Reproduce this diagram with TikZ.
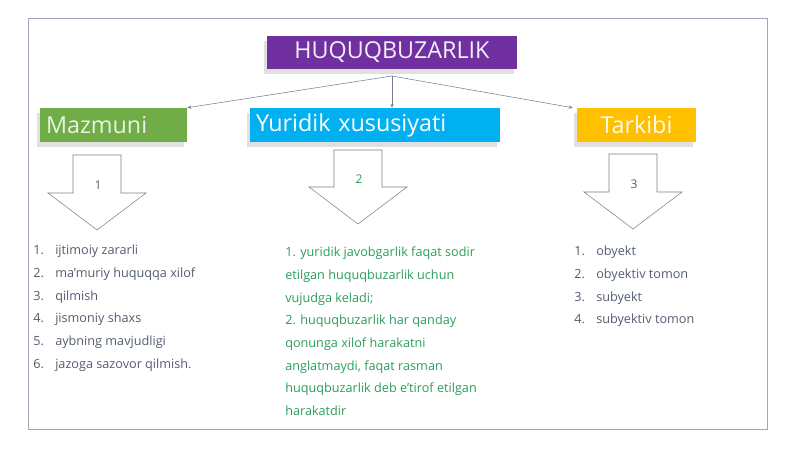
\documentclass[tikz,border=0pt]{standalone}
\usepackage{fontspec}
\setmainfont{Open Sans}
\usetikzlibrary{shadows,arrows.meta}
\definecolor{huqpurple}{HTML}{7030A0}
\definecolor{huqgreen}{HTML}{70AD47}
\definecolor{huqcyan}{HTML}{00B0F0}
\definecolor{huqgold}{HTML}{FFC000}
\definecolor{listgray}{HTML}{525C70}
\definecolor{listgreen}{HTML}{2A9D5C}
\definecolor{framegray}{HTML}{9FA8B5}
\begin{document}
\begin{tikzpicture}[x=0.75pt,y=-0.75pt,thin,
  headbox/.style={inner xsep=4.5pt,inner ysep=0pt,minimum height=25.5pt,
    font=\fontsize{17.5}{20}\selectfont,
    drop shadow={shadow xshift=-2pt,shadow yshift=-4pt,opacity=.2,fill=black!60}},
  link/.style={draw=listgray!80,-{Stealth[length=3pt,width=2.5pt]}},
  blockarrow/.style={draw=black!50,fill=white},
  listtext/.style={anchor=north west,inner sep=0pt,align=left,
    font=\fontsize{9.5}{17}\selectfont}]
  \useasboundingbox (0,0) rectangle (800,449);
  \draw[framegray] (28,18) rectangle (767,429);
  \node[headbox,fill=huqpurple,text=huqpurple!8,minimum width=187.5pt,
    minimum height=24.75pt] (huq) at (392,52.5) {HUQUQBUZARLIK};
  \node[headbox,fill=huqgreen,text=huqgreen!15,text width=101.25pt,
    align=left] (maz) at (113.5,125) {Mazmuni};
  \node[headbox,fill=huqcyan,text=white,text width=178.5pt,
    align=left] (yur) at (375,125) {Yuridik xususiyati};
  \node[headbox,fill=huqgold,text=white!92!huqgold,minimum width=89.25pt]
    (tar) at (636.5,125) {Tarkibi};
  \coordinate (fork) at (392,76);
  \draw[link] (fork) -- (maz.north east);
  \draw[link] (fork) -- ([xshift=12.75pt]yur.north);
  \draw[link] (fork) -- ([xshift=-3pt]tar.north west);
  % block arrows under the three boxes
  \foreach \cx/\top/\bot/\tip/\n/\c in {97/155/193/230/1/listgray,
      358/150/187/224/2/listgreen,633/154/192/229/3/listgray}{
    \draw[blockarrow] (\cx-24,\top) -- (\cx+24,\top) -- (\cx+24,\bot)
      -- (\cx+49,\bot) -- (\cx,\tip) -- (\cx-49,\bot) -- (\cx-24,\bot)
      -- cycle;
    \node[text=\c,font=\fontsize{9}{10}\selectfont] (num\n)
      at (\cx+1,\bot-8) {\n};}
  \node[listtext,text=listgray] (mazlist) at (33,245)
    {\makebox[16.5pt][l]{1.}ijtimoiy zararli\\
     \makebox[16.5pt][l]{2.}ma'muriy huquqqa xilof\\
     \makebox[16.5pt][l]{3.}qilmish\\
     \makebox[16.5pt][l]{4.}jismoniy shaxs\\
     \makebox[16.5pt][l]{5.}aybning mavjudligi\\
     \makebox[16.5pt][l]{6.}jazoga sazovor qilmish.};
  \node[listtext,text=listgreen] (yurlist) at (285,247)
    {1. yuridik javobgarlik faqat sodir\\etilgan huquqbuzarlik uchun\\
     vujudga keladi;\\2. huquqbuzarlik har qanday\\
     qonunga xilof harakatni\\anglatmaydi, faqat rasman\\
     huquqbuzarlik deb e'tirof etilgan\\harakatdir};
  \node[listtext,text=listgray] (tarlist) at (574,246)
    {\makebox[16.5pt][l]{1.}obyekt\\
     \makebox[16.5pt][l]{2.}obyektiv tomon\\
     \makebox[16.5pt][l]{3.}subyekt\\
     \makebox[16.5pt][l]{4.}subyektiv tomon};
\end{tikzpicture}
\end{document}
